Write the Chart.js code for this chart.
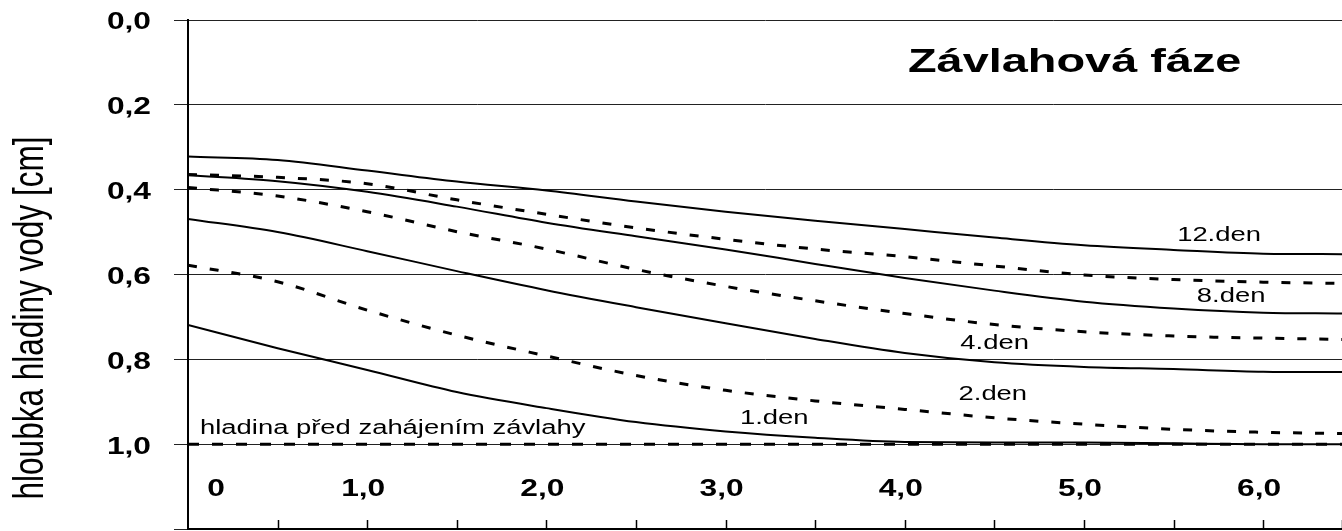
<!DOCTYPE html>
<html>
<head>
<meta charset="utf-8">
<script src="https://cdn.jsdelivr.net/npm/chart.js@4.4.1/dist/chart.umd.min.js"></script>
<style>
  html, body { margin: 0; padding: 0; background: #fff; }
  #wrap { width: 1342px; height: 531px; }
</style>
</head>
<body>
<div id="wrap"><canvas id="c" width="1342" height="531"></canvas></div>
<script>
// ---- data ----
const xValues = [0, 0.5, 1.0, 1.5, 2.0, 2.5, 3.0, 3.5, 4.0, 4.5, 5.0, 5.5, 6.0, 6.44];
const den12   = [0.322, 0.330, 0.355, 0.381, 0.402, 0.428, 0.452, 0.473, 0.493, 0.513, 0.531, 0.542, 0.551, 0.552];
const den8d   = [0.364, 0.371, 0.386, 0.424, 0.458, 0.490, 0.517, 0.540, 0.558, 0.580, 0.601, 0.612, 0.618, 0.621];
const den8    = [0.366, 0.380, 0.405, 0.440, 0.478, 0.510, 0.541, 0.575, 0.608, 0.638, 0.664, 0.680, 0.690, 0.692];
const den4d   = [0.395, 0.415, 0.452, 0.499, 0.540, 0.588, 0.628, 0.662, 0.692, 0.718, 0.735, 0.745, 0.750, 0.753];
const den4    = [0.469, 0.500, 0.545, 0.592, 0.637, 0.677, 0.715, 0.752, 0.785, 0.807, 0.818, 0.823, 0.829, 0.830];
const den2    = [0.578, 0.617, 0.684, 0.743, 0.792, 0.838, 0.873, 0.898, 0.918, 0.938, 0.953, 0.965, 0.972, 0.975];
const den1    = [0.719, 0.774, 0.825, 0.877, 0.915, 0.948, 0.970, 0.985, 0.995, 0.996, 0.996, 0.998, 1.000, 1.000];
const baseline= [1.0, 1.0, 1.0, 1.0, 1.0, 1.0, 1.0, 1.0, 1.0, 1.0, 1.0, 1.0, 1.0, 1.0];

const yTickValues = [0, 0.2, 0.4, 0.6, 0.8, 1.0];
const yTickLabels = ['0,0', '0,2', '0,4', '0,6', '0,8', '1,0'];
const xTickValues = [0, 1, 2, 3, 4, 5, 6];
const xTickLabels = ['0', '1,0', '2,0', '3,0', '4,0', '5,0', '6,0'];

const titleText = 'Závlahová fáze';
const yTitleText = 'hloubka hladiny vody [cm]';
const curveLabels = [
  { text: '12.den', x: 5.52, y: 0.508 },
  { text: '8.den',  x: 5.63, y: 0.651 },
  { text: '4.den',  x: 4.31, y: 0.762 },
  { text: '2.den',  x: 4.30, y: 0.884 },
  { text: '1.den',  x: 3.08, y: 0.939 },
  { text: 'hladina před zahájením závlahy', x: 0.067, y: 0.962 }
];

// ---- helpers ----
const FONT = '"Liberation Sans", Arial, Helvetica, sans-serif';
function drawStretched(ctx, text, x, y, size, bold, sx, align) {
  ctx.save();
  ctx.font = (bold ? 'bold ' : '') + size + 'px ' + FONT;
  const w = ctx.measureText(text).width * sx;
  let left = x;
  if (align === 'center') left = x - w / 2;
  else if (align === 'right') left = x - w;
  ctx.textAlign = 'left';
  ctx.textBaseline = 'middle';
  ctx.fillStyle = '#000';
  ctx.translate(left, y);
  ctx.scale(sx, 1);
  ctx.fillText(text, 0, 0);
  ctx.restore();
}

const textPlugin = {
  id: 'texts',
  afterDraw(chart) {
    const ctx = chart.ctx;
    const xs = chart.scales.x, ys = chart.scales.y;
    const area = chart.chartArea;

    // inward tick marks on bottom axis
    ctx.save();
    ctx.strokeStyle = '#000';
    ctx.lineWidth = 1.5;
    xs.ticks.forEach(t => {
      if (t.value <= 0) return;
      const px = Math.round(xs.getPixelForValue(t.value)) + 0.5;
      ctx.beginPath();
      ctx.moveTo(px, area.bottom);
      ctx.lineTo(px, area.bottom - 9);
      ctx.stroke();
    });
    ctx.restore();

    // y tick labels
    yTickValues.forEach((v, i) => {
      drawStretched(ctx, yTickLabels[i], 151, ys.getPixelForValue(v) + 3, 23, true, 1.38, 'right');
    });
    // x tick labels (inside plot area)
    xTickValues.forEach((v, i) => {
      const off = v === 0 ? 28 : -4;
      drawStretched(ctx, xTickLabels[i], xs.getPixelForValue(v) + off, 490, 23, true, 1.38, 'center');
    });

    // title
    drawStretched(ctx, titleText, 908, 63, 33, true, 1.42, 'left');

    // curve labels
    curveLabels.forEach(l => {
      drawStretched(ctx, l.text, xs.getPixelForValue(l.x), ys.getPixelForValue(l.y), 20, false, 1.37, 'left');
    });

    // y axis title (rotated)
    ctx.save();
    ctx.font = '31px ' + FONT;
    const w = ctx.measureText(yTitleText).width;
    ctx.fillStyle = '#000';
    ctx.textAlign = 'center';
    ctx.textBaseline = 'middle';
    ctx.translate(31, 318);
    ctx.scale(1.36, 1);
    ctx.rotate(-Math.PI / 2);
    ctx.scale(363 / w, 1);
    ctx.fillText(yTitleText, 0, 0);
    ctx.restore();
  }
};

function pts(arr) { return xValues.map((x, i) => ({ x: x, y: arr[i] })); }
function solid(arr) {
  return { data: pts(arr), borderColor: '#000', borderWidth: 2, pointRadius: 0, fill: false, cubicInterpolationMode: 'monotone' };
}
function dashed(arr, dash) {
  return { data: pts(arr), borderColor: '#000', borderWidth: 3, borderDash: dash || [9, 13], pointRadius: 0, fill: false, cubicInterpolationMode: 'monotone' };
}

new Chart(document.getElementById('c'), {
  type: 'line',
  data: {
    datasets: [
      solid(den12),
      dashed(den8d),
      solid(den8),
      dashed(den4d),
      solid(den4),
      dashed(den2),
      solid(den1),
      dashed(baseline, [11, 13])
    ]
  },
  options: {
    responsive: false,
    animation: false,
    devicePixelRatio: 1,
    layout: { padding: { left: 174, top: 20, right: 0, bottom: 2 } },
    plugins: { legend: { display: false }, tooltip: { enabled: false }, title: { display: false } },
    scales: {
      x: {
        type: 'linear', min: 0, max: 6.44,
        ticks: { display: false, stepSize: 0.5 },
        grid: { display: false, drawTicks: false },
        border: { display: true, color: '#000', width: 2 }
      },
      y: {
        type: 'linear', min: 0, max: 1.2, reverse: true,
        ticks: { display: false, stepSize: 0.2 },
        grid: { color: '#222', lineWidth: 1, tickLength: 14, drawTicks: true },
        border: { display: true, color: '#000', width: 2 }
      }
    }
  },
  plugins: [textPlugin]
});
</script>
</body>
</html>
